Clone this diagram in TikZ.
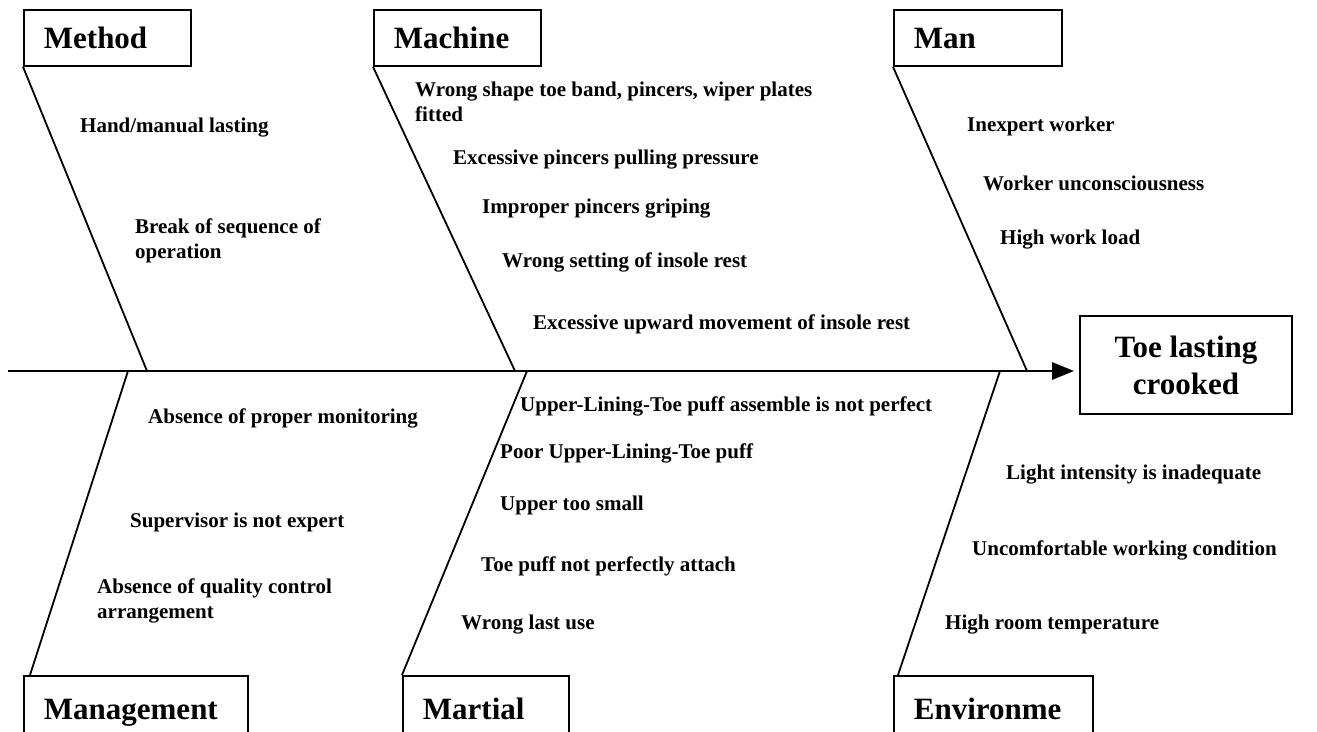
\documentclass[tikz,border=0pt]{standalone}
\usepackage{fontspec}
\setmainfont{Liberation Serif}
\usetikzlibrary{arrows.meta, positioning}

\begin{document}
\begin{tikzpicture}[x=1pt, y=-1pt,
  catbox/.style={draw, line width=1.8pt, anchor=north west, inner xsep=20pt, minimum height=56pt, text height=22pt, text depth=0pt, align=left, font=\fontsize{31}{36}\selectfont\bfseries},
  cause/.style={anchor=west, inner sep=0pt, align=left, font=\fontsize{21}{25}\selectfont\bfseries},
  bone/.style={line width=1.8pt}]
  \useasboundingbox (0,0) rectangle (1317,731);
  \clip (0,0) rectangle (1317,731);

  % Effect and spine
  \node[draw, line width=1.8pt, minimum width=212pt, minimum height=98pt, align=center, font=\fontsize{31}{37}\selectfont\bfseries] (effect) at (1186,365) {Toe lasting\\crooked};
  \coordinate (tail) at (8,371);
  \draw[-{Triangle[length=22pt, width=17pt]}, line width=2.8pt, shorten >=5pt] (tail) -- (tail -| effect.west);

  % Category boxes
  \node[catbox, text width=127pt] (method) at (23,9) {Method};
  \node[catbox, text width=127pt] (machine) at (373,9) {Machine};
  \node[catbox, text width=128pt] (man) at (893,9) {Man};
  \node[catbox, text width=184pt, minimum height=66pt] (mgmt) at (23,675) {Management};
  \node[catbox, text width=126pt, minimum height=66pt] (martial) at (402,675) {Martial};
  \node[catbox, text width=159pt, minimum height=66pt] (env) at (893,675) {Environme};

  % Bones
  \coordinate (jmethod) at (147,371);
  \coordinate (jmachine) at (515,371);
  \coordinate (jman) at (1027,371);
  \coordinate (jmgmt) at (128,371);
  \coordinate (jmartial) at (527,371);
  \coordinate (jenv) at (1000,371);
  \draw[bone] (method.south west) -- (jmethod);
  \draw[bone] (machine.south west) -- (jmachine);
  \draw[bone] (man.south west) -- (jman);
  \draw[bone] (jmgmt) -- ([xshift=7pt]mgmt.north west);
  \draw[bone] (jmartial) -- (martial.north west);
  \draw[bone] (jenv) -- ([xshift=5pt]env.north west);

  % Method causes
  \node[cause] (c11) at (80,128) {Hand/manual lasting};
  \node[cause] (c12) at (135,241) {Break of sequence of\\operation};

  % Machine causes
  \node[cause] (c21) at (415,102) {Wrong shape toe band, pincers, wiper plates\\fitted};
  \node[cause] (c22) at (453,160) {Excessive pincers pulling pressure};
  \node[cause] (c23) at (482,209) {Improper pincers griping};
  \node[cause] (c24) at (502,262) {Wrong setting of insole rest};
  \node[cause] (c25) at (533,324) {Excessive upward movement of insole rest};

  % Man causes
  \node[cause] (c31) at (967,126) {Inexpert worker};
  \node[cause] (c32) at (983,183) {Worker unconsciousness};
  \node[cause] (c33) at (1000,240) {High work load};

  % Management causes
  \node[cause] (c41) at (148,418) {Absence of proper monitoring};
  \node[cause] (c42) at (130,522) {Supervisor is not expert};
  \node[cause] (c43) at (97,601) {Absence of quality control\\arrangement};

  % Martial causes
  \node[cause] (c51) at (520,406) {Upper-Lining-Toe puff assemble is not perfect};
  \node[cause] (c52) at (500,453) {Poor Upper-Lining-Toe puff};
  \node[cause] (c53) at (500,505) {Upper too small};
  \node[cause] (c54) at (481,566) {Toe puff not perfectly attach};
  \node[cause] (c55) at (461,625) {Wrong last use};

  % Environment causes
  \node[cause] (c61) at (1006,475) {Light intensity is inadequate};
  \node[cause] (c62) at (972,550) {Uncomfortable working condition};
  \node[cause] (c63) at (945,625) {High room temperature};
\end{tikzpicture}
\end{document}
